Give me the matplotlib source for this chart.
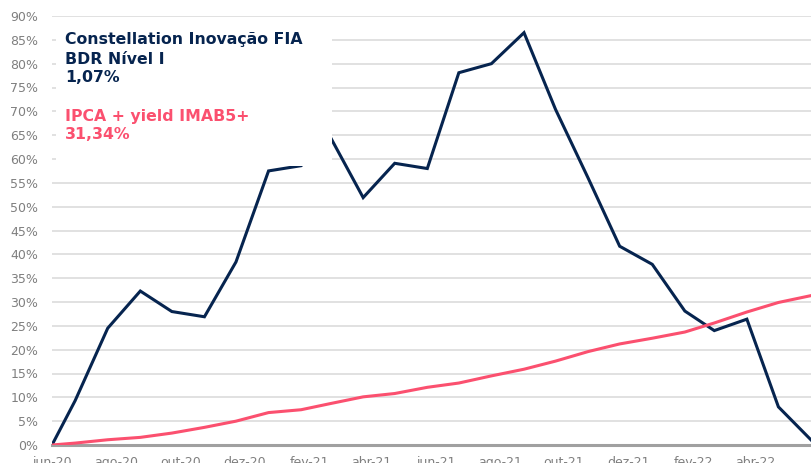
import matplotlib
matplotlib.use("Agg")
import matplotlib.pyplot as plt
import matplotlib.dates as mdates
from matplotlib.patches import Rectangle
from matplotlib.ticker import FuncFormatter
import pandas as pd

# ---- data ----
start_date = "2020-06-08"
dates = [pd.Timestamp(start_date)] + list(pd.date_range("2020-06-30", periods=24, freq="ME"))

fund = [0.0, 9.3, 24.5, 32.3, 28.0, 26.9, 38.4, 57.5, 58.6, 64.5, 51.9, 59.1, 58.0,
        78.1, 80.0, 86.5, 70.4, 56.0, 41.7, 37.9, 28.1, 24.0, 26.4, 8.0, 1.07]
bench = [0.0, 0.4, 1.1, 1.6, 2.5, 3.7, 5.0, 6.8, 7.4, 8.7, 10.1, 10.8, 12.1,
         13.0, 14.5, 15.9, 17.6, 19.6, 21.2, 22.4, 23.7, 25.6, 27.9, 29.9, 31.34]

tick_labels = ["jun-20", "ago-20", "out-20", "dez-20", "fev-21", "abr-21",
               "jun-21", "ago-21", "out-21", "dez-21", "fev-22", "abr-22"]
y_ticks = list(range(0, 95, 5))

fund_name = ["Constellation Inovação FIA", "BDR Nível I", "1,07%"]
bench_name = ["IPCA + yield IMAB5+", "31,34%"]

navy = "#06244f"
pink = "#fb506f"
grey_txt = "#7f7f7f"

# ---- figure ----
fig = plt.figure(figsize=(8.11, 4.63), dpi=100)
W, H = 811, 463
ax = fig.add_axes([52 / W, 18 / H, 759 / W, 429 / H])

xd = mdates.date2num(dates)
ax.plot(xd, fund, color=navy, lw=2.2, zorder=3, solid_joinstyle="miter")
ax.plot(xd, bench, color=pink, lw=2.2, zorder=3, solid_joinstyle="miter")

ax.set_xlim(xd[0], xd[-1])
ax.set_ylim(0, 90)

tick_dates = [mdates.date2num(pd.Timestamp(start_date) + pd.DateOffset(months=2 * i))
              for i in range(len(tick_labels))]
ax.set_xticks(tick_dates)
ax.set_xticklabels(tick_labels)
ax.set_yticks(y_ticks)
ax.yaxis.set_major_formatter(FuncFormatter(lambda v, p: f"{int(round(v))}%"))

ax.tick_params(axis="both", length=0, colors=grey_txt, labelsize=9)
ax.tick_params(axis="y", pad=10)
ax.tick_params(axis="x", pad=8)

ax.grid(axis="y", color="#d9d9d9", lw=1.1, zorder=0)
ax.set_axisbelow(True)
for s in ["top", "right", "left"]:
    ax.spines[s].set_visible(False)
ax.spines["bottom"].set_color("#a0a0a0")
ax.spines["bottom"].set_linewidth(2.2)
ax.spines["bottom"].set_zorder(2.5)

# white label box covering part of the plot
def ax_x(px):
    return (px - 52) / 759
def ax_y(py):
    return (445 - py) / 429

ax.add_patch(Rectangle((ax_x(56), ax_y(166)), ax_x(332) - ax_x(56), ax_y(22) - ax_y(166),
                       transform=ax.transAxes, facecolor="white", edgecolor="none",
                       zorder=4, clip_on=False))

fund_baselines = [44, 63.5, 82.5]
for txt, by in zip(fund_name, fund_baselines):
    ax.text(ax_x(65), ax_y(by), txt, transform=ax.transAxes, color=navy,
            fontsize=11.3, fontweight="bold", va="baseline", ha="left", zorder=5)
bench_baselines = [120.7, 139.3]
for txt, by in zip(bench_name, bench_baselines):
    ax.text(ax_x(65), ax_y(by), txt, transform=ax.transAxes, color=pink,
            fontsize=11.3, fontweight="bold", va="baseline", ha="left", zorder=5)

fig.savefig("out.png", dpi=100)
